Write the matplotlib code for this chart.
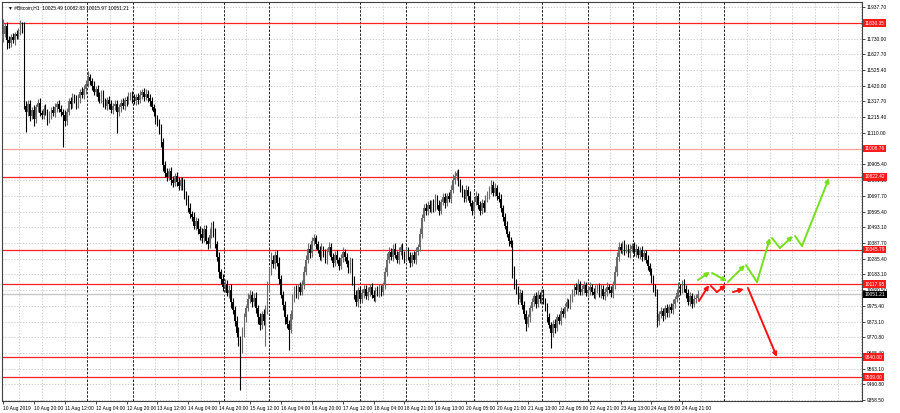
import numpy as np
import matplotlib
matplotlib.use("Agg")
import matplotlib.pyplot as plt
from matplotlib.transforms import blended_transform_factory

FONT = ["Liberation Sans Narrow", "DejaVu Sans Condensed", "Liberation Sans", "DejaVu Sans"]
FS = 3.5

# hourly closes (bar 0 = 10 Aug 04:00)
first_open = 11730
closes = [
    11760, 11810, 11720, 11700, 11740, 11720, 11760, 11750, 11780, 11820,
    11800, 11290, 11250, 11300, 11220, 11260, 11200, 11280, 11310, 11240,
    11230, 11270, 11250, 11200, 11230, 11260, 11240, 11280, 11300, 11270,
    11250, 11230, 11190, 11250, 11320, 11300, 11350, 11330, 11300, 11340,
    11380, 11360, 11400, 11430, 11480, 11450, 11420, 11380, 11400, 11350,
    11330, 11370, 11310, 11290, 11330, 11300, 11260, 11290, 11300, 11250,
    11280, 11310, 11290, 11330, 11320, 11350, 11360, 11340, 11320, 11350,
    11330, 11360, 11380, 11350, 11370, 11340, 11320, 11280, 11250, 11200,
    11180, 11130, 11050, 10900, 10850, 10820, 10860, 10800, 10780, 10830,
    10790, 10760, 10800, 10770, 10700, 10680, 10620, 10580, 10560, 10500,
    10530, 10480, 10450, 10420, 10480, 10400, 10380, 10440, 10500, 10460,
    10380, 10300, 10200, 10150, 10100, 10120, 10060, 10080, 10000, 9950,
    9880, 9800, 9750, 9700, 9800, 9900, 9960, 10020, 10050, 10000,
    10030, 9960, 9900, 9850, 9920, 9880, 9950, 10100, 10200, 10280,
    10250, 10310, 10260, 10150, 10050, 9980, 9900, 9860, 9820, 9920,
    10020, 10080, 10050, 10100, 10070, 10120, 10200, 10280, 10350, 10320,
    10400, 10420, 10380, 10340, 10300, 10350, 10320, 10280, 10330, 10360,
    10300, 10260, 10310, 10280, 10240, 10290, 10330, 10300, 10250, 10220,
    10260, 10150, 10050, 10000, 10080, 10020, 10060, 10090, 10040, 10070,
    10100, 10050, 10030, 10080, 10060, 10090, 10070, 10110, 10200, 10280,
    10330, 10300, 10350, 10310, 10280, 10330, 10360, 10310, 10290, 10340,
    10300, 10260, 10310, 10280, 10330, 10360, 10450, 10550, 10620, 10600,
    10640, 10610, 10650, 10620, 10680, 10640, 10600, 10660, 10690, 10650,
    10700, 10680, 10740, 10800, 10830, 10850, 10780, 10750, 10720, 10680,
    10740, 10700, 10650, 10600, 10660, 10700, 10640, 10600, 10650, 10620,
    10680, 10700, 10740, 10770, 10720, 10750, 10700, 10680, 10620, 10560,
    10500, 10450, 10400, 10380, 10200, 10120, 10080, 10020, 10060, 9980,
    9920, 9860, 9900, 9960, 10000, 10040, 9990, 10050, 10020, 10060,
    10010, 9970, 9900, 9850, 9800, 9860, 9830, 9900, 9880, 9940,
    9920, 9970, 10000, 9980, 10030, 10060, 10100, 10080, 10120, 10070,
    10090, 10110, 10060, 10080, 10100, 10070, 10050, 10080, 10100, 10060,
    10090, 10040, 10070, 10100, 10080, 10060, 10110, 10200, 10300, 10360,
    10340, 10380, 10340, 10360, 10320, 10350, 10370, 10330, 10350, 10310,
    10340, 10300, 10320, 10280, 10240, 10200, 10150, 10100, 10060, 9880,
    9920, 9940, 9910, 9960, 9930, 9970, 9950, 9990, 10020, 10060,
    10100, 10080, 10120, 10090, 10060, 10000, 10040, 9990, 10020, 10025,
    10051,
]
# wick lengths above / below the body
wick_up = [
    100, 20, 30, 25, 20, 30, 15, 25, 20, 30, 20, 40, 30, 25, 30, 20, 35, 20, 25, 30,
    20, 25, 30, 20, 25, 20, 30, 25, 20, 30, 25, 20, 30, 25, 20, 30, 25, 20, 30, 25,
    20, 30, 25, 30, 35, 20, 25, 30, 20, 25, 30, 20, 25, 30, 20, 25, 30, 20, 25, 30,
    20, 25, 30, 20, 25, 30, 20, 25, 30, 20, 25, 30, 20, 25, 30, 20, 25, 30, 20, 25,
    30, 20, 40, 30, 25, 30, 20, 25, 30, 20, 25, 30, 20, 25, 40, 30, 25, 30, 20, 35,
    30, 25, 20, 40, 30, 25, 30, 50, 25, 30, 30, 25, 30, 20, 35, 30, 25, 30, 40, 30,
    25, 30, 40, 30, 35, 30, 25, 40, 30, 25, 30, 40, 25, 30, 20, 35, 30, 40, 30, 50,
    30, 25, 30, 40, 30, 25, 30, 20, 25, 30, 35, 25, 30, 20, 30, 25, 35, 30, 40, 30,
    25, 25, 20, 25, 30, 40, 20, 30, 25, 35, 30, 20, 25, 30, 20, 25, 30, 20, 25, 30,
    40, 30, 25, 30, 20, 25, 30, 20, 25, 30, 20, 25, 30, 20, 25, 30, 20, 25, 30, 40,
    30, 25, 30, 40, 25, 30, 20, 30, 25, 30, 25, 30, 20, 25, 30, 20, 40, 30, 25, 30,
    25, 30, 20, 25, 30, 25, 30, 20, 25, 30, 20, 25, 30, 40, 30, 20, 25, 30, 20, 25,
    30, 25, 30, 20, 25, 30, 20, 25, 30, 20, 25, 30, 20, 30, 25, 30, 20, 25, 30, 20,
    25, 30, 20, 25, 30, 40, 30, 25, 30, 20, 25, 30, 20, 25, 30, 20, 25, 30, 20, 25,
    30, 20, 25, 30, 20, 25, 30, 20, 25, 30, 20, 25, 30, 20, 25, 30, 20, 25, 30, 20,
    25, 30, 20, 25, 30, 20, 25, 30, 20, 25, 30, 20, 25, 30, 20, 25, 30, 40, 30, 35,
    30, 25, 30, 20, 25, 30, 20, 25, 30, 20, 25, 30, 20, 25, 30, 20, 25, 30, 20, 30,
    25, 30, 20, 25, 30, 20, 25, 30, 20, 25, 30, 20, 25, 30, 20, 25, 30, 20, 25, 30,
    32,
]
wick_dn = [
    25, 20, 60, 30, 25, 20, 30, 25, 20, 25, 30, 20, 134, 25, 30, 20, 40, 25, 30, 20,
    25, 30, 20, 35, 25, 30, 20, 25, 30, 20, 25, 212, 30, 25, 20, 30, 25, 20, 30, 25,
    30, 20, 25, 30, 20, 25, 30, 20, 25, 30, 20, 25, 30, 20, 25, 30, 20, 25, 30, 140,
    25, 30, 20, 25, 30, 20, 25, 30, 20, 25, 30, 20, 25, 30, 20, 25, 30, 20, 25, 30,
    20, 25, 30, 40, 30, 25, 20, 30, 25, 20, 30, 25, 20, 30, 25, 40, 30, 25, 30, 20,
    25, 30, 40, 30, 25, 20, 30, 25, 20, 30, 25, 30, 40, 30, 25, 30, 20, 30, 40, 30,
    35, 30, 40, 276, 30, 25, 30, 20, 25, 30, 25, 30, 40, 30, 25, 30, 164, 25, 30, 20,
    25, 30, 20, 30, 25, 30, 40, 30, 136, 25, 30, 20, 25, 30, 20, 25, 30, 20, 25, 30,
    20, 25, 30, 20, 25, 30, 20, 25, 30, 20, 25, 30, 20, 25, 30, 20, 25, 30, 20, 25,
    30, 40, 30, 25, 30, 20, 25, 30, 20, 25, 30, 20, 25, 30, 20, 25, 30, 20, 25, 30,
    20, 25, 30, 20, 25, 30, 20, 25, 30, 20, 25, 30, 20, 25, 30, 20, 25, 30, 20, 25,
    30, 20, 25, 30, 20, 25, 30, 20, 25, 30, 20, 25, 30, 20, 25, 30, 20, 25, 30, 20,
    25, 30, 20, 25, 30, 20, 25, 30, 20, 25, 30, 20, 25, 30, 20, 25, 30, 20, 25, 30,
    20, 25, 30, 20, 40, 30, 25, 30, 20, 25, 30, 50, 25, 30, 20, 25, 30, 20, 25, 30,
    20, 25, 30, 20, 100, 25, 30, 20, 25, 30, 20, 25, 30, 20, 25, 30, 20, 25, 30, 20,
    25, 30, 20, 25, 30, 20, 25, 30, 20, 25, 30, 20, 25, 30, 20, 25, 30, 20, 25, 30,
    20, 25, 30, 20, 25, 30, 20, 25, 30, 20, 25, 30, 20, 25, 30, 20, 25, 30, 20, 40,
    30, 25, 30, 20, 25, 30, 20, 25, 30, 20, 25, 30, 20, 25, 30, 20, 25, 30, 20, 25,
    9,
]

# horizontal levels (price, label, colour)
level_prices = [11830.35, 11008.76, 10822.42, 10345.79, 10117.95, 9640.00, 9509.00]
level_colors = ["#ff2020", "#f7a0a0", "#ff2020", "#ff2020", "#ff2020", "#ff2020", "#ff2020"]
last_price = 10051.21

ytick_vals = [9358.50, 9460.80, 9563.10, 9665.40, 9770.80, 9873.10, 9975.40, 10080.50,
              10183.10, 10285.40, 10387.70, 10493.10, 10595.40, 10697.70, 10801.10,
              10905.40, 11008.70, 11110.00, 11215.40, 11317.70, 11420.00, 11525.40,
              11627.70, 11730.00, 11832.70, 11937.70]
# tick labels that the level boxes cover
hidden_ticks = [11832.70, 11008.70]

xtick_bars = [0, 16, 32, 48, 64, 80, 96, 112, 128, 144, 160, 176, 192, 208, 224,
              240, 256, 272, 288, 304, 320, 336, 352]
xtick_labels = ["10 Aug 2019", "10 Aug 20:00", "11 Aug 12:00", "12 Aug 04:00",
                "12 Aug 20:00", "13 Aug 12:00", "14 Aug 04:00", "14 Aug 20:00",
                "15 Aug 12:00", "16 Aug 04:00", "16 Aug 20:00", "17 Aug 12:00",
                "18 Aug 04:00", "18 Aug 21:00", "19 Aug 13:00", "20 Aug 05:00",
                "20 Aug 21:00", "21 Aug 13:00", "22 Aug 05:00", "22 Aug 21:00",
                "23 Aug 13:00", "24 Aug 05:00", "24 Aug 21:00"]

# forecast arrows: (bar0, price0, bar1, price1, arrowhead)
red_segments = [
    (360.6, 10008, 365.8, 10113, True),
    (366.8, 10107, 369.9, 10067, False),
    (369.9, 10067, 374.6, 10113, True),
    (378.2, 10067, 383.9, 10087, True),
    (386.0, 10094, 401.0, 9641, True),
]
green_segments = [
    (360.1, 10146, 366.3, 10199, True),
    (367.4, 10192, 375.1, 10139, True),
    (375.6, 10133, 384.5, 10244, True),
    (385.0, 10244, 390.7, 10133, False),
    (390.7, 10133, 397.4, 10422, True),
    (398.4, 10422, 402.6, 10356, False),
    (402.6, 10356, 409.3, 10435, True),
    (410.4, 10435, 414.0, 10369, False),
    (414.0, 10369, 428.0, 10815, True),
]

opens = [first_open] + closes[:-1]
highs = [max(o, c) + u for o, c, u in zip(opens, closes, wick_up)]
lows = [min(o, c) - d for o, c, d in zip(opens, closes, wick_dn)]
bars = np.arange(len(closes))

fig = plt.figure(figsize=(9, 4.13), dpi=100)
ax = fig.add_axes([2 / 900, 12 / 413, 860 / 900, 399 / 413])
ax.set_xlim(-0.52, 445.1)
ax.set_ylim(9351.9, 11970.6)

# grid
for v in ytick_vals:
    ax.axhline(v, color="#c4c4c4", lw=0.6, ls=(0, (1.5, 2)), zorder=0)
dark_k = [3, 5, 9, 11, 15, 17, 20, 23, 25, 27, 29, 31]
for k in range(38):
    gx = (19 + 22.75 * k - 3) / 1.93
    if k in dark_k:
        ax.axvline(gx, color="#202020", lw=0.7, ls=(0, (2.5, 1.5)), zorder=0)
    else:
        ax.axvline(gx, color="#c4c4c4", lw=0.6, ls=(0, (1.5, 2)), zorder=0)

# levels
for p, col in zip(level_prices, level_colors):
    ax.axhline(p, color=col, lw=0.9, zorder=1)
ax.axhline(last_price, color="#c8c8c8", lw=1.0, zorder=1)

# candles
up_mask = np.array(closes) >= np.array(opens)
wick_cols = np.where(up_mask, "#6a6a6a", "#000000")
ax.vlines(bars, lows, highs, colors=wick_cols, lw=0.8, zorder=3)
body_bottom = np.minimum(opens, closes)
body_h = np.maximum(np.abs(np.array(closes) - np.array(opens)), 3)
ax.bar(bars, body_h, bottom=body_bottom, width=0.75, color=wick_cols, lw=0, zorder=3)

# forecast arrows
for segs, col in ((red_segments, "#ff1010"), (green_segments, "#74e01c")):
    for x0, y0, x1, y1, head in segs:
        ax.annotate("", xy=(x1, y1), xytext=(x0, y0),
                    arrowprops=dict(arrowstyle="-|>" if head else "-", color=col,
                                    lw=1.4, mutation_scale=6, shrinkA=0, shrinkB=0),
                    zorder=4)

# axes styling
for s in ax.spines.values():
    s.set_color("#404040")
    s.set_linewidth(0.8)
ax.yaxis.tick_right()
ax.set_yticks(ytick_vals)
ax.set_yticklabels(["" if v in hidden_ticks else f"{v:.2f}" for v in ytick_vals],
                   fontsize=FS, family=FONT)
ax.set_xticks(xtick_bars)
ax.set_xticklabels(xtick_labels, fontsize=FS, family=FONT, ha="left")
ax.tick_params(axis="both", length=2, width=0.5, pad=1.5, colors="#000000")

trans = blended_transform_factory(ax.transAxes, ax.transData)
for p, col in zip(level_prices, level_colors):
    ax.text(1.003, p, f"{p:.2f}", transform=trans, fontsize=FS, family=FONT,
            color="white", ha="left", va="center", clip_on=False, zorder=6,
            bbox=dict(fc="#ff1a1a", ec="none", pad=1.0))
ax.text(1.003, last_price, f"{last_price:.2f}", transform=trans, fontsize=FS,
        family=FONT, color="white", ha="left", va="center", clip_on=False, zorder=6,
        bbox=dict(fc="#000000", ec="none", pad=1.0))

ax.text(0.007, 0.993, "\u25bc #Bitcoin,H1  10025.49 10082.83 10015.97 10051.21",
        transform=ax.transAxes, fontsize=FS, family=FONT, ha="left", va="top")

fig.savefig("out.png", dpi=100)
